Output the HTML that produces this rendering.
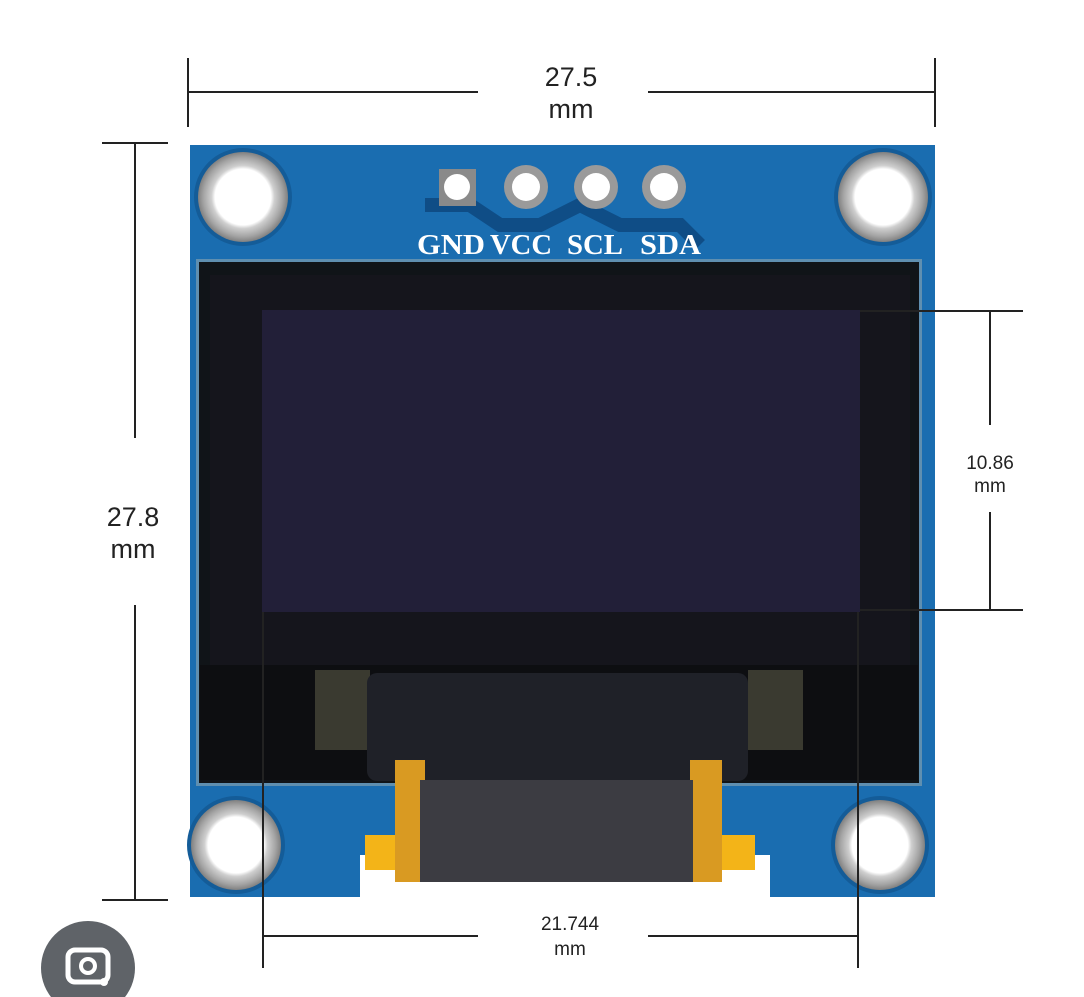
<!DOCTYPE html>
<html><head><style>
body{margin:0;width:1084px;height:997px;background:#fff;overflow:hidden;position:relative;font-family:"Liberation Sans",sans-serif}
.t{position:absolute;color:#222;text-align:center;transform:translateX(-50%);line-height:1}
</style></head><body>
<svg width="1084" height="997" style="position:absolute;left:0;top:0">
<defs>
<radialGradient id="h" cx="50%" cy="50%" r="50%"><stop offset="62%" stop-color="#fff"/><stop offset="70%" stop-color="#cfcfcf"/><stop offset="88%" stop-color="#a4a4a4"/><stop offset="100%" stop-color="#808080"/></radialGradient>
</defs>
<path d="M190 145 H935 V897 H770 V855 H360 V897 H190 Z" fill="#1a6db0"/>
<circle cx="243" cy="197" r="49" fill="#145c98"/><circle cx="243" cy="197" r="45" fill="url(#h)"/>
<circle cx="883" cy="197" r="49" fill="#145c98"/><circle cx="883" cy="197" r="45" fill="url(#h)"/>
<circle cx="236" cy="845" r="49" fill="#145c98"/><circle cx="236" cy="845" r="45" fill="url(#h)"/>
<circle cx="880" cy="845" r="49" fill="#145c98"/><circle cx="880" cy="845" r="45" fill="url(#h)"/>
<path d="M425 205 H470 L500 225 H540 L580 205 L620 225 H680 L700 245" stroke="#0f4d86" stroke-width="14" fill="none"/>
<rect x="439" y="169" width="37" height="37" fill="#8a8a8a"/><circle cx="457" cy="187" r="13" fill="#fff"/>
<circle cx="526" cy="187" r="22" fill="#9a9a9a"/><circle cx="526" cy="187" r="14" fill="#fff"/>
<circle cx="596" cy="187" r="22" fill="#9a9a9a"/><circle cx="596" cy="187" r="14" fill="#fff"/>
<circle cx="664" cy="187" r="22" fill="#9a9a9a"/><circle cx="664" cy="187" r="14" fill="#fff"/>
<rect x="196" y="259" width="726" height="527" fill="#5f8fb0"/>
<rect x="199" y="262" width="720" height="521" fill="#101418"/>
<rect x="210" y="275" width="700" height="390" fill="#15151c"/>
<rect x="262" y="310" width="598" height="302" fill="#221f38"/>
<rect x="200" y="665" width="718" height="115" fill="#0d0e11"/>
<rect x="315" y="670" width="55" height="80" fill="#3a3a30"/>
<rect x="748" y="670" width="55" height="80" fill="#3a3a30"/>
<rect x="367" y="673" width="381" height="108" rx="10" fill="#1f2128"/>
<rect x="365" y="835" width="40" height="35" fill="#f3b418"/>
<rect x="715" y="835" width="40" height="35" fill="#f3b418"/>
<rect x="395" y="760" width="30" height="122" fill="#d99a22"/>
<rect x="690" y="760" width="32" height="122" fill="#d99a22"/>
<rect x="420" y="780" width="273" height="102" fill="#3c3c42"/>
<g stroke="#222" stroke-width="2" fill="none">
<line x1="188" y1="58" x2="188" y2="127"/><line x1="935" y1="58" x2="935" y2="127"/>
<line x1="188" y1="92" x2="478" y2="92"/><line x1="648" y1="92" x2="935" y2="92"/>
<line x1="102" y1="143" x2="168" y2="143"/><line x1="102" y1="900" x2="168" y2="900"/>
<line x1="135" y1="143" x2="135" y2="438"/><line x1="135" y1="605" x2="135" y2="900"/>
<line x1="860" y1="311" x2="1023" y2="311"/><line x1="860" y1="610" x2="1023" y2="610"/>
<line x1="990" y1="311" x2="990" y2="425"/><line x1="990" y1="512" x2="990" y2="610"/>
<line x1="263" y1="612" x2="263" y2="968"/><line x1="858" y1="612" x2="858" y2="968"/>
<line x1="263" y1="936" x2="478" y2="936"/><line x1="648" y1="936" x2="858" y2="936"/>
</g>
<circle cx="88" cy="968" r="47" fill="#5f6368"/>
<rect x="68" y="950" width="40" height="32" rx="7" fill="none" stroke="#fff" stroke-width="5"/>
<circle cx="88" cy="966" r="7" fill="none" stroke="#fff" stroke-width="4"/>
<circle cx="104" cy="982" r="4" fill="#fff"/>
<g fill="#fff" font-family="Liberation Serif,serif" font-weight="bold" font-size="28">
<text x="417" y="254" textLength="68" lengthAdjust="spacingAndGlyphs">GND</text>
<text x="490" y="254" textLength="62" lengthAdjust="spacingAndGlyphs">VCC</text>
<text x="567" y="254" textLength="56" lengthAdjust="spacingAndGlyphs">SCL</text>
<text x="640" y="254" textLength="61" lengthAdjust="spacingAndGlyphs">SDA</text>
</g>
</svg>
<div class="t" style="left:571px;top:64px;font-size:27px">27.5</div>
<div class="t" style="left:571px;top:96px;font-size:27px">mm</div>
<div class="t" style="left:133px;top:504px;font-size:27px">27.8</div>
<div class="t" style="left:133px;top:536px;font-size:27px">mm</div>
<div class="t" style="left:990px;top:454px;font-size:19px">10.86</div>
<div class="t" style="left:990px;top:477px;font-size:19px">mm</div>
<div class="t" style="left:570px;top:915px;font-size:19px">21.744</div>
<div class="t" style="left:570px;top:940px;font-size:19px">mm</div>
</body></html>
